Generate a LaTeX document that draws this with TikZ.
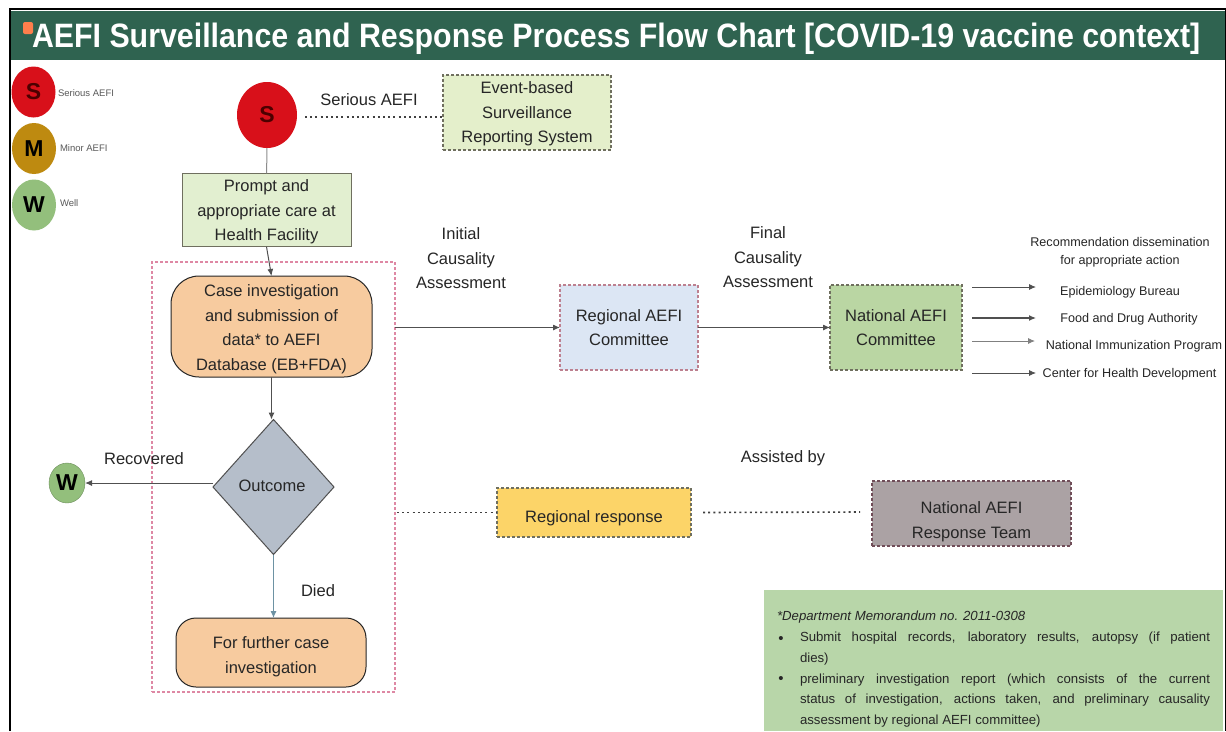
\documentclass[tikz,border=0pt]{standalone}
\usepackage{fontspec}
\setmainfont{Liberation Sans}
\usetikzlibrary{shapes.geometric,arrows.meta,calc}
\definecolor{titlegreen}{HTML}{2F6350}
\definecolor{inkdark}{HTML}{262626}
\definecolor{pinkdash}{HTML}{DE88A4}
\definecolor{dashgrey}{HTML}{6F6F5F}
\definecolor{promptfill}{HTML}{E2EFD0}
\definecolor{eventfill}{HTML}{E4EFCB}
\definecolor{orangefill}{HTML}{F7CB9F}
\definecolor{diamondfill}{HTML}{B5BECA}
\definecolor{bluefill}{HTML}{DCE6F4}
\definecolor{natfill}{HTML}{BAD6A3}
\definecolor{yellowfill}{HTML}{FCD468}
\definecolor{greyfill}{HTML}{ABA2A4}
\definecolor{notefill}{HTML}{B8D6A9}
\definecolor{redfill}{HTML}{D8101A}
\definecolor{goldfill}{HTML}{BE8A10}
\definecolor{wellfill}{HTML}{93BF7C}
\definecolor{linegrey}{HTML}{505050}
\newcommand{\dn}[2]{\raisebox{-#1}[\height][\depth]{\begin{tabular}{@{}c@{}}#2\end{tabular}}}
\newcommand{\full}[1]{\makebox[410pt][s]{#1}}
\tikzset{
  base/.style={inner sep=0pt,outer sep=0pt,align=center,text=inkdark},
  boxtext/.style={base,font=\fontsize{16.5}{24.5}\selectfont},
  lab/.style={boxtext},
  small/.style={base,font=\fontsize{12.6}{18}\selectfont},
  tiny/.style={base,font=\fontsize{9.5}{10}\selectfont,text=black!65},
  dotbox/.style={boxtext,draw=dashgrey,densely dashed,line width=1.2pt},
  round/.style={boxtext,draw=inkdark,line width=1pt,rounded corners=28pt},
  disc/.style={ellipse,inner sep=0pt,outer sep=0pt,draw=none,font=\bfseries\fontsize{23}{23}\selectfont},
  conn/.style={draw=linegrey,line width=1pt},
  arr/.style={conn,-{Latex[length=7pt,width=6pt]}},
  dotted line/.style={draw=black!75,line width=1.6pt,dash pattern=on 2pt off 3.2pt},
  note/.style={base,font=\fontsize{13.2}{20.8}\selectfont,anchor=north west,align=left,text=inkdark}
}
\begin{document}
\begin{tikzpicture}[x=1pt,y=-1pt]
\useasboundingbox (0,0) rectangle (1226,731);
\fill[white] (0,0) rectangle (1226,731);
% frame and title bar
\fill[titlegreen] (11,11) rectangle (1225,60);
\draw[black,line width=2.5pt] (10,731) -- (10,9) -- (1226,9);
\draw[black,line width=1pt] (1225.5,9) -- (1225.5,731);
\fill[red!45!orange!70!white,rounded corners=2pt] (23,22) rectangle (33,34);
\node[base,text=white,anchor=base west] (title) at (32,47.5) {\resizebox{1168pt}{24.5pt}{\bfseries AEFI Surveillance and Response Process Flow Chart [COVID-19 vaccine context]}};
% legend
\node[disc,fill=redfill,minimum width=44pt,minimum height=51pt,text=black!70!red] (ls) at (33.5,92) {S};
\node[disc,fill=goldfill,minimum width=44pt,minimum height=51pt,text=black] (lm) at (34,148.5) {M};
\node[disc,fill=wellfill,minimum width=44pt,minimum height=51pt,text=black] (lw) at (34,205) {W};
\node[tiny,anchor=west] (lst) at (58,93) {Serious AEFI};
\node[tiny,anchor=west] (lmt) at (60,148) {Minor AEFI};
\node[tiny,anchor=west] (lwt) at (60,203) {Well};
% dashed grouping frame
\node[base,draw=pinkdash,line width=1.4pt,densely dashed,minimum width=243pt,minimum height=430pt] (group) at (273.5,477) {};
% main column
\node[disc,fill=redfill,minimum width=60pt,minimum height=66pt,text=black!70!red] (s) at (267,115) {S};
\node[boxtext,fill=promptfill,draw=dashgrey,line width=1pt,minimum width=169pt,minimum height=72pt] (prompt) at (266.5,210) {\dn{1.5pt}{Prompt and\\appropriate care at\\Health Facility}};
\node[round,fill=orangefill,minimum width=201pt,minimum height=101pt] (case) at (271.5,326.5) {\dn{2pt}{Case investigation\\and submission of\\data* to AEFI\\Database (EB+FDA)}};
\node[boxtext,diamond,fill=diamondfill,draw=linegrey,line width=1pt,minimum width=121pt,minimum height=135pt] (outcome) at (273.5,487) {};
\node[boxtext] (outcomet) at (272,486) {Outcome};
\node[disc,fill=wellfill,minimum width=36pt,minimum height=40pt,draw=wellfill!75!black,text=black] (wsmall) at (67,483) {W};
\node[round,fill=orangefill,minimum width=190pt,minimum height=69pt,rounded corners=20pt] (further) at (271,652.5) {\dn{3.5pt}{For further case\\investigation}};
\node[lab] (rec) at (144,459) {Recovered};
\node[lab] (died) at (318,591) {Died};
% top row
\node[lab] (sae) at (369,100) {Serious AEFI};
\node[dotbox,fill=eventfill,minimum width=168pt,minimum height=75pt] (event) at (527,112.5) {\dn{1pt}{Event-based\\Surveillance\\Reporting System}};
% middle row
\node[lab] (initial) at (461,258.5) {Initial\\Causality\\Assessment};
\node[lab] (final) at (768,257.5) {Final\\Causality\\Assessment};
\node[dotbox,draw=pinkdash!70!dashgrey,fill=bluefill,minimum width=138pt,minimum height=85pt] (regional) at (629,327.5) {Regional AEFI\\Committee};
\node[dotbox,fill=natfill,minimum width=132pt,minimum height=85pt] (national) at (896,327.5) {National AEFI\\Committee};
% recommendations
\node[small] (rectitle) at (1120,252.5) {Recommendation dissemination\\for appropriate action};
\node[small] (epi) at (1120,292) {Epidemiology Bureau};
\node[small] (fda) at (1129,319) {Food and Drug Authority};
\node[small] (nip) at (1134,346) {National Immunization Program};
\node[small] (chd) at (1129.5,374) {Center for Health Development};
\coordinate (a1s) at (972,287); \coordinate (a1e) at (1036,287);
\coordinate (a2s) at (972,318); \coordinate (a2e) at (1036,318);
\coordinate (a3s) at (972,341); \coordinate (a3e) at (1035,341);
\coordinate (a4s) at (972,373); \coordinate (a4e) at (1036,373);
% response row
\node[dotbox,fill=yellowfill,minimum width=194pt,minimum height=49pt] (response) at (594,512.5) {\dn{5pt}{Regional response}};
\node[lab] (assisted) at (783,458) {Assisted by};
\node[dotbox,draw=pinkdash!40!inkdark,fill=greyfill,minimum width=199pt,minimum height=65pt] (team) at (971.5,513.5) {\dn{7.5pt}{National AEFI\\Response Team}};
% note
\node[base,fill=notefill,minimum width=459pt,minimum height=141pt] (notebox) at (993.5,660.5) {};
\node[note] (notehead) at (777,611) {\itshape *Department Memorandum no. 2011-0308};
\node[note] (note1) at (800,632) {\full{Submit hospital records, laboratory results, autopsy (if patient}\\dies)};
\node[note] (note2) at (800,673.5) {\full{preliminary investigation report (which consists of the current}\\\full{status of investigation, actions taken, and preliminary causality}\\assessment by regional AEFI committee)};
\node[note,anchor=north,font=\fontsize{15}{20.8}\selectfont] (b1) at (781,636) {•};
\node[note,anchor=north,font=\fontsize{15}{20.8}\selectfont] (b2) at (781,676.5) {•};
% connectors
\draw[conn,black!45] (s) -- (prompt);
\draw[arr] (prompt.south) -- (case.north);
\draw[arr] (case.south) -- (case.south |- outcome.north);
\draw[arr] (wsmall.east -| outcome.west) -- (wsmall.east);
\draw[arr,draw=black!30!cyan!50!gray] (outcome.south) -- (outcome.south |- further.north);
\draw[arr] (group.east |- regional.west) -- (regional.west);
\draw[arr] (regional.east) -- (regional.east -| national.west);
\draw[arr,line width=.9pt] (a1s) -- (a1e);
\draw[arr,line width=1.2pt] (a2s) -- (a2e);
\draw[arr,draw=black!50,line width=.9pt] (a3s) -- (a3e);
\draw[arr,line width=.8pt] (a4s) -- (a4e);
\coordinate (sdot) at (305,117);
\draw[dotted line] (sdot) -- (sdot -| event.west);
\draw[dotted line] (group.east |- response.west) ++(2,0) -- (response.west);
\coordinate (tdot) at (860,512);
\draw[dotted line] (response.east) ++(12,0) -- (tdot);
\end{tikzpicture}
\end{document}
